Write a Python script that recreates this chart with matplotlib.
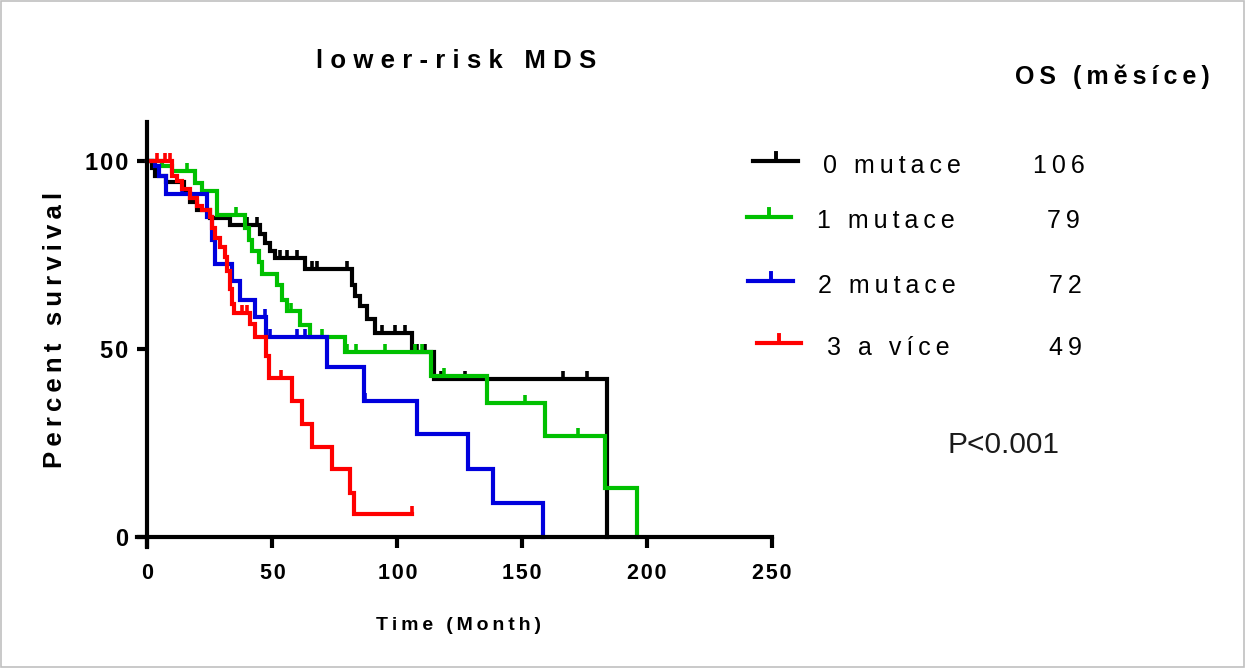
import numpy as np
import matplotlib
matplotlib.use("Agg")
import matplotlib.pyplot as plt
from matplotlib.path import Path
from matplotlib.lines import Line2D
from matplotlib.patches import Rectangle

plt.rcParams['font.family'] = ['Liberation Sans', 'DejaVu Sans']

# Kaplan-Meier steps (time in months, percent survival)
t_0mut = [0, 2, 3, 7.5, 14.5, 17, 20, 25, 33, 45, 47, 49, 51, 63, 82, 83, 85, 88, 91, 106, 114.6, 184]
s_0mut = [100, 98, 96, 94.3, 91.5, 89, 87, 84.7, 83, 80.5, 78, 76, 74, 71.3, 67, 64, 61.4, 58, 54.3, 49, 42, 0]
c_0mut = [40, 44, 53, 56, 60, 66, 68, 80, 94, 99, 103, 108, 111, 117.5, 127, 166.5, 176]

t_1mut = [0, 6, 10, 19, 22, 28, 39, 40.5, 42, 44.5, 46, 52, 54, 56, 61, 65, 79, 113.4, 136, 159, 183, 196]
s_1mut = [100, 98.5, 97.3, 94, 92, 85.5, 82, 79, 76, 73, 70, 67, 63, 60, 56.4, 53, 49, 42.8, 35.6, 26.9, 13, 0]
c_1mut = [16, 35.5, 57.5, 70, 80, 83.5, 95, 107, 110, 118.5, 151, 172.5]

t_2mut = [0, 3, 4.5, 7.5, 24, 26, 27, 34, 37, 43, 47.5, 72, 86.6, 108, 128.5, 138.5, 158.5]
s_2mut = [100, 98.7, 96, 91.2, 85, 79, 72.6, 68, 63, 58.3, 53, 45.2, 36.2, 27.4, 18, 9, 0]
c_2mut = [14, 47, 49, 60, 63, 87]

t_3mut = [0, 10, 12, 14, 17, 20, 22, 25, 26, 27, 29, 31, 32, 33, 33.7, 34.5, 41, 43, 47.5, 48.5,
          58, 62, 66, 74, 81, 82.5, 106]
s_3mut = [100, 96, 94.7, 92.5, 90, 88, 87, 85, 82, 79.5, 77, 74.5, 70.7, 66, 62, 59.6, 56.6, 53, 48, 42.3,
          36.2, 30, 23.9, 18, 11.7, 5.9, 5.9]
c_3mut = [4, 7, 9, 38, 40, 53.5, 106]

group_labels = ["0 mutace", "1 mutace", "2 mutace", "3 a více"]
median_os = ["106", "79", "72", "49"]
colors = ["#000000", "#00c000", "#0000dd", "#ff0000"]

xticks = [0, 50, 100, 150, 200, 250]
yticks = [0, 50, 100]

W, H = 1245, 668


def spaced(s, sp="\u2009"):
    return sp.join(s)


def fx(x):
    return x / W


def fy(y):
    return 1 - y / H


def step_at(t, s, c):
    t = np.asarray(t)
    s = np.asarray(s)
    idx = np.searchsorted(t, c, side="right") - 1
    return s[idx]


fig = plt.figure(figsize=(12.45, 6.68), dpi=100)
ax = fig.add_axes([137 / W, 1 - 547.2 / H, 635 / W, 425.2 / H])

tick_mark = Path([(0, 0), (0, 1)])

curves = [
    (t_0mut, s_0mut, c_0mut, colors[0]),
    (t_1mut, s_1mut, c_1mut, colors[1]),
    (t_2mut, s_2mut, c_2mut, colors[2]),
    (t_3mut, s_3mut, c_3mut, colors[3]),
]
for t, s, c, col in curves:
    ax.step(t, s, where="post", color=col, lw=3.0, solid_joinstyle="miter")
    ax.plot(c, step_at(t, s, c), linestyle="none", marker=tick_mark, ms=12,
            mew=2.6, color=col)

ax.set_xlim(-4.2, 250)
ax.set_ylim(-2.8, 110.3)
for side in ["top", "right"]:
    ax.spines[side].set_visible(False)
ax.spines["left"].set_position(("data", 0))
ax.spines["bottom"].set_position(("data", 0))
ax.spines["left"].set_linewidth(3)
ax.spines["bottom"].set_linewidth(3)

ax.set_xticks(xticks)
ax.set_xticklabels([spaced(str(v), "\u200a") for v in xticks], fontsize=15.5, fontweight="bold")
ax.set_yticks(yticks)
ax.set_yticklabels([spaced(str(v), "\u200a") for v in yticks], fontsize=17, fontweight="bold")
ax.tick_params(axis="x", length=8, width=3, pad=11)
ax.tick_params(axis="y", length=7, width=3, pad=7)

# titles and axis labels
fig.text(fx(456), fy(68), spaced("lower-risk MDS", "\u2009\u200a"), ha="center", va="baseline",
         fontsize=18.5, fontweight="bold")
fig.text(fx(458), fy(630), spaced("Time (Month)"), ha="center", va="baseline",
         fontsize=14, fontweight="bold")
fig.text(fx(55), fy(330), spaced("Percent survival"), ha="center", va="center",
         rotation=90, fontsize=18.5, fontweight="bold")
fig.text(fx(1112), fy(84), spaced("OS (měsíce)"), ha="center", va="baseline",
         fontsize=18, fontweight="bold")
fig.text(fx(1003), fy(453), "P<0.001", ha="center", va="baseline",
         fontsize=21.5, color="#1a1a1a")

# legend drawn by hand, the way the original lays it out
leg_line_x = [(753, 798), (746.7, 790.7), (748, 793), (756.7, 801)]
leg_line_y = [160.7, 216.7, 280.7, 342.7]
leg_text_x = [823, 817, 818, 827]
leg_base_y = [173, 228, 293, 355]
num_x = [1059, 1063.5, 1065.5, 1065]
for i in range(4):
    x1, x2 = leg_line_x[i]
    y = leg_line_y[i]
    col = colors[i]
    fig.add_artist(Line2D([fx(x1), fx(x2)], [fy(y), fy(y)], color=col, lw=3.0,
                          transform=fig.transFigure))
    xm = (x1 + x2) / 2
    fig.add_artist(Line2D([fx(xm), fx(xm)], [fy(y), fy(y - 8)], color=col, lw=2.8,
                          transform=fig.transFigure))
    fig.text(fx(leg_text_x[i]), fy(leg_base_y[i]), spaced(group_labels[i]), ha="left",
             va="baseline", fontsize=18)
    fig.text(fx(num_x[i]), fy(leg_base_y[i]), spaced(median_os[i]), ha="center",
             va="baseline", fontsize=18)

fig.add_artist(Rectangle((0.0008, 0.0015), 0.9984, 0.997, transform=fig.transFigure,
                         fill=False, edgecolor="#c0c0c0", lw=1.2))

fig.savefig("out.png", dpi=100)
